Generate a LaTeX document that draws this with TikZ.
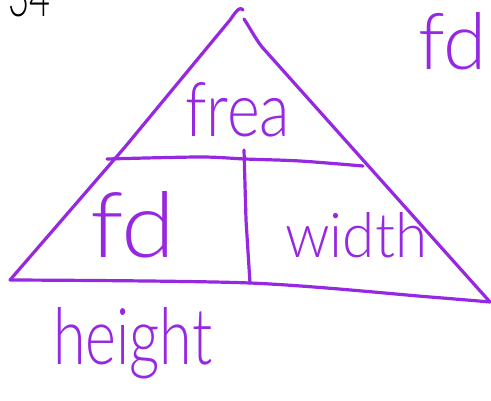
\documentclass[tikz,border=0pt]{standalone}
\usepackage{fontspec}
\setmainfont{Lato}
\newfontfamily\hand{Lato Light}
\definecolor{pen}{RGB}{150,40,225}
\tikzset{
  penline/.style={draw=pen, line width=3.2pt, line cap=round, line join=round},
  word/.style={inner sep=0pt, text=pen, font=\hand},
}
\begin{document}
\begin{tikzpicture}[x=1pt,y=-1pt]
\useasboundingbox (0,0) rectangle (491,401);
\clip (0,0) rectangle (491,401);
\fill[white] (0,0) rectangle (491,401);
% corners
\coordinate (bl) at (10,280);
\coordinate (apexL) at (243,10);
\coordinate (apexR) at (244,19);
\coordinate (br) at (490,302);
\coordinate (bm) at (250,283);
\coordinate (hl) at (107,159);
\coordinate (hr) at (363,166);
\coordinate (vt) at (244,150);
% triangle sides
\draw[penline] (bl) -- (125,147) -- (230,20) .. controls (237,10) and (240,6) .. (apexL);
\draw[penline] (apexR) .. controls (250,28) and (255,38) .. (262,47) -- (br);
\draw[penline] plot[smooth] coordinates {(bl) (bm) (430,297) (br)};
% inner lines
\draw[penline] plot[smooth] coordinates {(hl) (200,157) (245,159) (300,161) (hr)};
\draw[penline] (vt) -- (246,220) -- (bm);
% texts
\node[word, anchor=base west] (frea) at (185,137) {\resizebox{105pt}{54pt}{frea}};
\node[word, anchor=base west] (fd1) at (90,258) {\resizebox{85pt}{66pt}{fd}};
\node[word, anchor=base west] (width) at (285,258) {\resizebox{142pt}{45pt}{width}};
\node[word, anchor=base west] (height) at (53,365) {\resizebox{159pt}{57pt}{height}};
\node[word, anchor=base west] (fd2) at (418,70) {\resizebox{!}{57pt}{fd}};
\node[inner sep=0pt, anchor=base west, text=black, font=\hand] (num) at (8,17) {\resizebox{42pt}{40pt}{34}};
\end{tikzpicture}
\end{document}
